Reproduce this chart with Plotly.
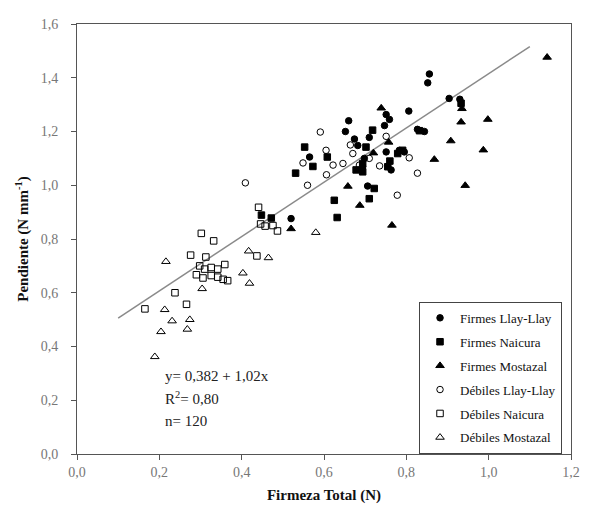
import plotly.graph_objects as go

# ---- data ----
firmes_ll_x = [0.856, 0.852, 0.904, 0.806, 0.751, 0.759, 0.660, 0.652, 0.747, 0.827, 0.844, 0.674,
               0.682, 0.710, 0.751, 0.783, 0.795, 0.698, 0.694, 0.763, 0.565, 0.520, 0.706, 0.930]
firmes_ll_y = [1.414, 1.381, 1.323, 1.276, 1.263, 1.245, 1.240, 1.200, 1.222, 1.208, 1.200, 1.172,
               1.148, 1.178, 1.124, 1.130, 1.124, 1.100, 1.069, 1.057, 1.105, 0.876, 0.997, 1.320]

firmes_na_x = [0.531, 0.553, 0.625, 0.632, 0.710, 0.722, 0.448, 0.472, 0.573, 0.608, 0.678, 0.694,
               0.718, 0.755, 0.779, 0.791, 0.832, 0.933, 0.702, 0.694, 0.760]
firmes_na_y = [1.045, 1.142, 0.944, 0.880, 0.950, 0.988, 0.889, 0.878, 1.070, 1.105, 1.057, 1.081,
               1.205, 1.069, 1.118, 1.130, 1.203, 1.305, 1.142, 1.050, 1.090]

firmes_mo_x = [1.142, 0.935, 0.933, 0.998, 0.908, 0.987, 0.943, 0.868, 0.739, 0.658, 0.687, 0.765,
               0.520, 0.757, 0.720]
firmes_mo_y = [1.476, 1.285, 1.235, 1.245, 1.165, 1.131, 0.999, 1.096, 1.287, 0.996, 0.925, 0.851,
               0.838, 1.160, 1.120]

debiles_ll_x = [0.409, 0.591, 0.560, 0.549, 0.605, 0.606, 0.622, 0.646, 0.664, 0.670, 0.686, 0.735,
                0.751, 0.807, 0.827, 0.778, 0.710]
debiles_ll_y = [1.009, 1.198, 1.000, 1.083, 1.130, 1.039, 1.075, 1.081, 1.150, 1.118, 1.075, 1.072,
                1.182, 1.102, 1.045, 0.963, 1.100]

debiles_na_x = [0.165, 0.238, 0.266, 0.276, 0.302, 0.332, 0.313, 0.298, 0.310, 0.326, 0.342, 0.359,
                0.290, 0.306, 0.326, 0.342, 0.355, 0.366, 0.437, 0.441, 0.446, 0.457, 0.476, 0.487]
debiles_na_y = [0.540, 0.600, 0.557, 0.740, 0.821, 0.793, 0.733, 0.700, 0.688, 0.694, 0.688, 0.705,
                0.667, 0.655, 0.664, 0.658, 0.650, 0.645, 0.737, 0.918, 0.856, 0.848, 0.850, 0.830]

debiles_mo_x = [0.189, 0.204, 0.213, 0.216, 0.231, 0.268, 0.274, 0.304, 0.403, 0.417, 0.419, 0.465, 0.580]
debiles_mo_y = [0.362, 0.455, 0.537, 0.716, 0.495, 0.464, 0.500, 0.615, 0.673, 0.755, 0.635, 0.730, 0.824]

# trend line as drawn in the picture
trend_intercept = 0.405
trend_slope = 1.01
trend_x_range = [0.10, 1.10]

eq_lines = ["y= 0,382 + 1,02x", "R<sup>2</sup>= 0,80", "n= 120"]

x_ticks = [0.0, 0.2, 0.4, 0.6, 0.8, 1.0, 1.2]
y_ticks = [0.0, 0.2, 0.4, 0.6, 0.8, 1.0, 1.2, 1.4, 1.6]

FONT = "Liberation Serif, Times New Roman, serif"

fig = go.Figure()

trend_y = [trend_intercept + trend_slope * v for v in trend_x_range]
fig.add_trace(go.Scatter(x=trend_x_range, y=trend_y, mode="lines",
                         line=dict(color="#8a8a8a", width=1.5), showlegend=False, hoverinfo="skip"))

series = [
    ("Firmes Llay-Llay", firmes_ll_x, firmes_ll_y, "circle", 6.5),
    ("Firmes Naicura", firmes_na_x, firmes_na_y, "square", 6.5),
    ("Firmes Mostazal", firmes_mo_x, firmes_mo_y, "triangle-up", 7.5),
    ("Débiles Llay-Llay", debiles_ll_x, debiles_ll_y, "circle-open", 6.5),
    ("Débiles Naicura", debiles_na_x, debiles_na_y, "square-open", 6.5),
    ("Débiles Mostazal", debiles_mo_x, debiles_mo_y, "triangle-up-open", 7.5),
]
for i, (name, xs, ys, sym, sz) in enumerate(series):
    fig.add_trace(go.Scatter(
        x=xs, y=ys, mode="markers", name=name, legendgroup=str(i),
        marker=dict(symbol=sym, size=sz, color="black",
                    line=dict(color="black", width=1)),
    ))

for k, txt in enumerate(eq_lines):
    fig.add_annotation(x=(163 - 77) / 495.0, y=(458 - (378 + 23 * k)) / 441.0,
                       xref="paper", yref="paper",
                       xanchor="left", yanchor="middle", text=txt, showarrow=False,
                       font=dict(family=FONT, size=15, color="#222"))

axis_common = dict(showline=True, linecolor="#555", linewidth=1, mirror=True,
                   ticks="outside", ticklen=5, tickcolor="#555", showgrid=False, zeroline=False,
                   ticklabeloverflow="allow",
                   tickfont=dict(family=FONT, size=14, color="#777"))

fig.update_layout(
    width=581, height=501,
    margin=dict(l=69, r=9, t=9, b=40),
    paper_bgcolor="white", plot_bgcolor="white",
    separators=",.",
    showlegend=True,
    legend=dict(x=(563 - 77) / 495.0, y=(458 - 302) / 441.0, xanchor="right", yanchor="top",
                bordercolor="#444", borderwidth=1, bgcolor="white",
                font=dict(family=FONT, size=13, color="#111"),
                tracegroupgap=4, itemsizing="trace", itemwidth=30),
    xaxis=dict(range=[0, 1.2], tickvals=x_ticks, tickformat=".1f",
               title=dict(text="<b>Firmeza Total (N)</b>", font=dict(family=FONT, size=15, color="#111"), standoff=10),
               **axis_common),
    yaxis=dict(range=[0, 1.6], tickvals=y_ticks, tickformat=".1f", ticklabelstandoff=10,
               title=dict(text="<b>Pendiente (N mm<sup>-1</sup>)</b>", font=dict(family=FONT, size=15, color="#111"), standoff=8),
               **axis_common),
)

fig.write_html("out.html")
